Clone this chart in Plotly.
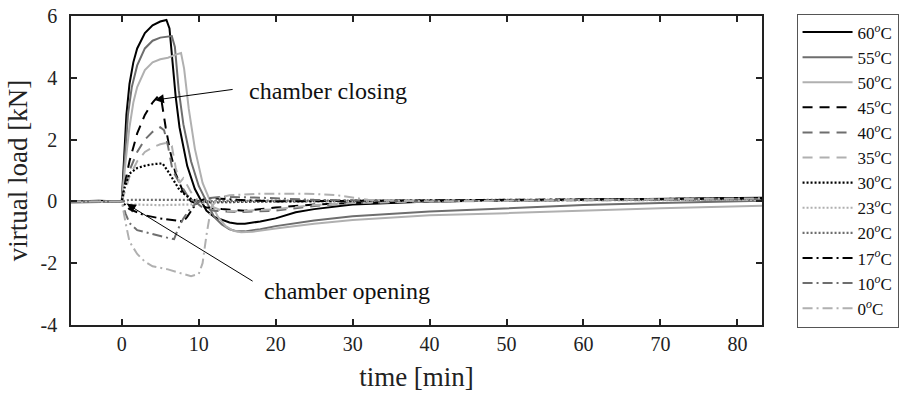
import plotly.graph_objects as go

# ---- data (time [min], virtual load [kN]) ----
T60 = [-6.6, -3, 0, 0.3, 0.6, 1, 1.5, 2, 3, 4, 5, 5.8, 6.2, 6.6, 7, 7.5, 8.5, 9.5, 10.3, 11, 12, 13, 14, 15, 16, 18, 20, 22.6, 25, 30, 40, 50, 60, 70, 83.2]
V60 = [0.0, 0.02, 0.0, 1.5, 2.8, 3.8, 4.5, 4.95, 5.45, 5.7, 5.82, 5.87, 5.6, 4.5, 3.4, 2.4, 1.15, 0.4, 0.0, -0.3, -0.5, -0.6, -0.68, -0.72, -0.72, -0.65, -0.55, -0.35, -0.25, -0.1, 0.0, 0.03, 0.06, 0.09, 0.12]

T55 = [-6.6, -3, 0, 0.4, 0.8, 1.3, 2, 3, 4, 5, 6.5, 6.9, 7.4, 8, 9, 10, 11, 12, 13, 14, 15, 16, 18, 20, 25, 30, 40, 50, 60, 70, 83.2]
V55 = [0.0, -0.02, 0.0, 1.5, 2.8, 3.7, 4.4, 4.95, 5.2, 5.3, 5.35, 5.0, 3.6, 2.5, 1.3, 0.5, 0.0, -0.5, -0.75, -0.9, -0.97, -0.97, -0.9, -0.8, -0.62, -0.48, -0.33, -0.22, -0.12, -0.05, 0.02]

T50 = [-6.6, -3, 0, 0.5, 1, 1.5, 2, 3, 4, 5, 6, 7, 7.7, 8.1, 8.7, 9.5, 10.5, 11.5, 12.5, 13.5, 14.5, 15.5, 17, 20, 25, 30, 40, 50, 60, 70, 83.2]
V50 = [-0.05, -0.03, 0.0, 1.3, 2.4, 3.2, 3.7, 4.25, 4.5, 4.6, 4.65, 4.75, 4.8, 4.3, 3.0, 1.7, 0.6, 0.0, -0.5, -0.8, -0.95, -1.0, -0.98, -0.88, -0.72, -0.6, -0.45, -0.38, -0.3, -0.22, -0.14]

T45 = [-6.6, 0, 0.5, 1, 2, 3, 4, 4.7, 5.2, 5.7, 6.3, 7, 8, 9, 10, 11, 13, 16, 20, 25, 30, 40, 60, 83.2]
V45 = [0.0, 0.0, 0.7, 1.3, 2.2, 2.8, 3.2, 3.4, 3.2, 2.4, 1.6, 0.9, 0.3, 0.0, -0.1, -0.2, -0.25, -0.3, -0.2, -0.1, -0.05, 0.0, 0.05, 0.1]

T40 = [-6.6, 0, 1, 2, 3, 4, 5, 5.5, 6, 6.6, 7.5, 8.5, 9.5, 10.5, 12, 15, 20, 25, 30, 40, 60, 83.2]
V40 = [0.0, 0.0, 1.0, 1.6, 2.0, 2.25, 2.4, 2.3, 1.8, 1.0, 0.6, 0.2, 0.0, -0.2, -0.3, -0.35, -0.3, -0.15, -0.05, 0.0, 0.05, 0.08]

T35 = [-6.6, 0, 1, 2, 3, 4, 5, 6, 6.5, 7, 7.5, 8, 9, 10, 11, 13, 15, 20, 25, 30, 40, 60, 83.2]
V35 = [0.0, 0.0, 0.8, 1.3, 1.6, 1.75, 1.85, 1.9, 1.8, 1.1, 0.6, 0.75, 0.3, 0.0, -0.1, -0.3, -0.32, -0.25, -0.12, -0.05, 0.0, 0.03, 0.06]

T30 = [-6.6, 0, 0.3, 1, 2, 3.2, 4.3, 5.3, 6.2, 7.5, 8.8, 10, 12, 20, 40, 60, 83.2]
V30 = [0.0, 0.0, 0.4, 0.9, 1.08, 1.17, 1.21, 1.23, 0.9, 0.37, 0.1, 0.0, -0.03, 0.0, 0.02, 0.05, 0.08]

T23 = [-6.6, 0, 1, 5, 9, 10.5, 15, 30, 50, 83.2]
V23 = [0.0, 0.0, -0.1, -0.12, -0.1, 0.0, 0.0, 0.02, 0.03, 0.05]

T20 = [-6.6, 0, 1, 5, 9, 10.5, 15, 30, 50, 83.2]
V20 = [0.0, 0.0, 0.05, 0.06, 0.05, 0.0, 0.02, 0.03, 0.05, 0.08]

T17 = [-6.6, 0, 1, 3, 5, 7, 8, 8.5, 9.3, 10, 11, 12, 15, 20, 30, 50, 83.2]
V17 = [0.0, 0.0, -0.25, -0.45, -0.55, -0.62, -0.65, -0.5, -0.2, 0.0, 0.1, 0.1, 0.05, 0.0, 0.02, 0.05, 0.1]

T10 = [-6.6, 0, 0.5, 1, 2, 3, 4, 5, 6, 6.8, 7.3, 8, 9, 10, 11, 13, 18, 25, 40, 60, 83.2]
V10 = [0.0, 0.0, -0.4, -0.7, -0.93, -1.0, -1.05, -1.12, -1.18, -1.22, -0.9, -0.55, -0.2, 0.0, 0.1, 0.15, 0.12, 0.05, 0.0, 0.05, 0.08]

T0 = [-6.6, 0, 0.5, 1, 2, 3, 4, 6, 8, 9, 10, 10.5, 11, 11.6, 12.5, 14, 18, 24, 28, 32, 40, 60, 83.2]
V0 = [0.0, 0.0, -0.7, -1.3, -1.7, -1.95, -2.1, -2.2, -2.35, -2.42, -2.35, -2.0, -1.1, -0.2, 0.1, 0.2, 0.25, 0.25, 0.2, 0.05, 0.0, 0.05, 0.1]

LABELS = ["60", "55", "50", "45", "40", "35", "30", "23", "20", "17", "10", "0"]
XTICKS = [0, 10, 20, 30, 40, 50, 60, 70, 80]
YTICKS = [-4, -2, 0, 2, 4, 6]
YTICKTEXT = ["-4", "-2", "0", "2", "4", "6"]

SERIES = [(T60, V60), (T55, V55), (T50, V50), (T45, V45), (T40, V40), (T35, V35),
          (T30, V30), (T23, V23), (T20, V20), (T17, V17), (T10, V10), (T0, V0)]

BLACK, DARK, LIGHT = "#000000", "#6e6e6e", "#b0b0b0"
COLORS = [BLACK, DARK, LIGHT, BLACK, DARK, LIGHT, BLACK, LIGHT, DARK, BLACK, DARK, LIGHT]
DASH_SOLID, DASH_DASH, DASH_DOT, DASH_DASHDOT = "solid", "10px,7px", "2px,2px", "10px,4px,2px,4px"
DASHES = [DASH_SOLID] * 3 + [DASH_DASH] * 3 + [DASH_DOT] * 3 + [DASH_DASHDOT] * 3

FONT = "Liberation Serif"

fig = go.Figure()
for (t, v), lab, c, d in zip(SERIES, LABELS, COLORS, DASHES):
    fig.add_trace(go.Scatter(
        x=t, y=v, mode="lines", name=f"{lab}<sup><i>o</i></sup>C",
        line=dict(color=c, width=2.2 if d == DASH_DOT else 2, dash=d),
    ))

fig.add_annotation(x=4.3, y=3.28, ax=14.6, ay=3.63, axref="x", ayref="y", xref="x", yref="y",
                   text="", showarrow=True, arrowhead=2, arrowsize=1.8, arrowwidth=1, arrowcolor="#000")
fig.add_annotation(x=16.3, y=3.57, xref="x", yref="y", text="chamber closing", showarrow=False,
                   xanchor="left", yanchor="middle", font=dict(family=FONT, size=24, color="#111"))
fig.add_annotation(x=0.65, y=-0.08, ax=17.2, ay=-2.61, axref="x", ayref="y", xref="x", yref="y",
                   text="", showarrow=True, arrowhead=2, arrowsize=1.8, arrowwidth=1, arrowcolor="#000")
fig.add_annotation(x=18.2, y=-2.9, xref="x", yref="y", text="chamber opening", showarrow=False,
                   xanchor="left", yanchor="middle", font=dict(family=FONT, size=24, color="#111"))

axis_common = dict(showline=True, linecolor="#222", linewidth=1.5, mirror="ticks",
                   ticks="inside", ticklen=6, tickwidth=1.5, tickcolor="#222",
                   showgrid=False, zeroline=False, automargin=False,
                   ticklabeloverflow="allow",
                   tickfont=dict(family=FONT, size=20, color="#222"))

fig.update_layout(
    width=911, height=393,
    margin=dict(l=71, r=145, t=16, b=68),
    paper_bgcolor="white", plot_bgcolor="white",
    font=dict(family=FONT, color="#222"),
    xaxis=dict(range=[-6.6, 83.2], tickvals=XTICKS, ticklabelstandoff=0,
               title=dict(text="time [min]", font=dict(family=FONT, size=27), standoff=13),
               **axis_common),
    yaxis=dict(range=[-4, 6], tickvals=YTICKS, ticktext=YTICKTEXT, ticklabelstandoff=8,
               title=dict(text="virtual load [kN]", font=dict(family=FONT, size=27), standoff=5),
               **axis_common),
    legend=dict(x=1.05, y=0.5, xanchor="left", yanchor="middle",
                bgcolor="white", bordercolor="#555", borderwidth=1,
                font=dict(family=FONT, size=17, color="#111"),
                itemwidth=50, tracegroupgap=0, maxheight=393),
    showlegend=True,
)

# remove the browser's default 8px page margin so the figure fills the window exactly
fig.write_html("out.html", config={"displayModeBar": False},
               post_script="document.body.style.margin='0';")
